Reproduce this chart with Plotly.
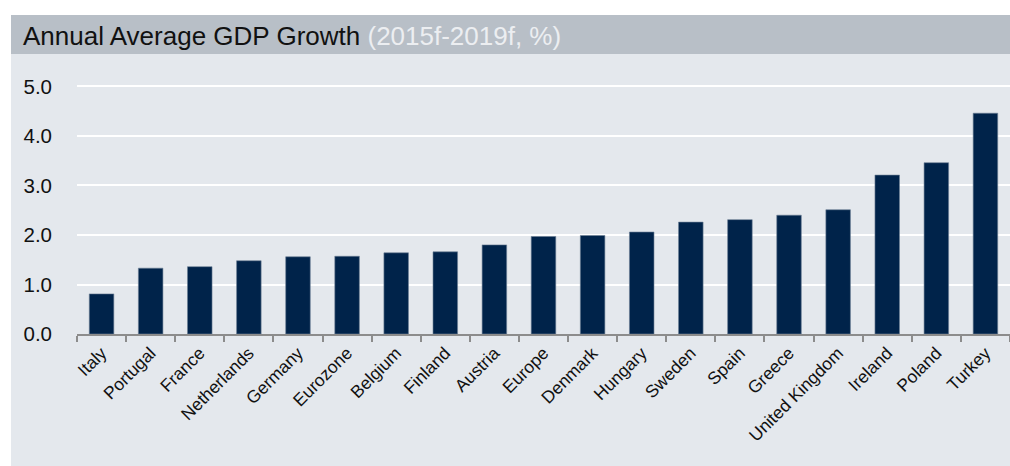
import plotly.graph_objects as go

countries = ["Italy", "Portugal", "France", "Netherlands", "Germany", "Eurozone",
             "Belgium", "Finland", "Austria", "Europe", "Denmark", "Hungary",
             "Sweden", "Spain", "Greece", "United Kingdom", "Ireland", "Poland", "Turkey"]
growth = [0.81, 1.33, 1.36, 1.48, 1.56, 1.57, 1.64, 1.66, 1.80, 1.97, 1.99, 2.06,
          2.26, 2.31, 2.40, 2.51, 3.21, 3.46, 4.46]
y_ticks = [0, 1, 2, 3, 4, 5]
y_tick_text = ["0.0", "1.0", "2.0", "3.0", "4.0", "5.0"]

W, H = 1010, 466
L, R, T, B = 77, 0, 84, 132
pw = W - L - R
ph = H - T - B

def px(x):
    return (x - L) / pw

def py(y):
    return (H - B - y) / ph

fig = go.Figure()
fig.add_trace(go.Bar(
    x=countries, y=growth,
    marker=dict(color="#00234a", line=dict(color="#6b7f96", width=0.6)),
    width=0.5,
))

fig.add_shape(type="rect", xref="paper", yref="paper",
              x0=px(11), x1=px(1010), y0=py(466), y1=py(54),
              fillcolor="#e4e8ed", line=dict(width=0), layer="below")
fig.add_shape(type="rect", xref="paper", yref="paper",
              x0=px(11), x1=px(1010), y0=py(54), y1=py(15),
              fillcolor="#b8bfc7", line=dict(width=0), layer="below")

fig.add_annotation(
    xref="paper", yref="paper", x=px(21), y=py(36), xanchor="left", yanchor="middle",
    text="Annual Average GDP Growth <span style='color:#eceef1'>(2015f-2019f, %)</span>",
    showarrow=False, font=dict(family="Liberation Sans, Arial", size=26, color="#111111"),
)

fig.update_layout(
    width=W, height=H,
    margin=dict(l=L, r=R, t=T, b=B, autoexpand=False),
    paper_bgcolor="white", plot_bgcolor="rgba(0,0,0,0)",
    showlegend=False,
    font=dict(family="Liberation Sans, Arial", color="#111111"),
    xaxis=dict(
        tickangle=-45, tickson="boundaries", ticks="outside", ticklen=6,
        tickcolor="#8c8c8c", tickwidth=1.5,
        showline=True, linecolor="#8c8c8c", linewidth=2,
        showgrid=False, tickfont=dict(size=17.5, color="#111111"),
        range=[-0.5, len(countries) - 0.5],
    ),
    yaxis=dict(
        range=[0, 5.05], tickvals=y_ticks, ticktext=y_tick_text,
        showgrid=True, gridcolor="white", gridwidth=2,
        zeroline=False, showline=False, ticks="",
        tickfont=dict(size=20.5, color="#111111"), ticklabelstandoff=24,
    ),
)

fig.write_html("out.html")
